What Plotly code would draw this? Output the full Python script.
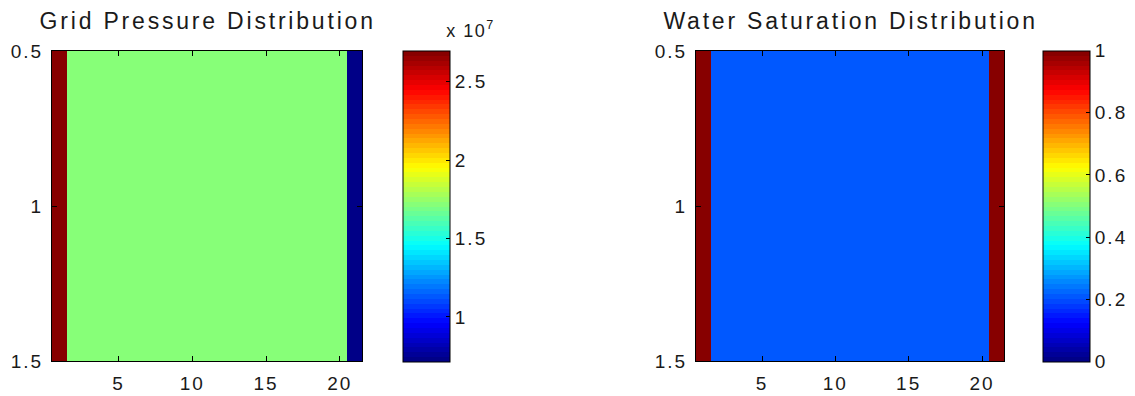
import numpy as np
import plotly.graph_objects as go

# Grid cells along the 1-D reservoir (single row of 21 blocks)
cells = list(range(1, 22))
rows = [1]

# Block pressure (Pa): injector at left, producer at right
pressure = [2.70e7] + [1.71e7] * 19 + [0.715e7]
# Water saturation (fraction)
saturation = [1.0] + [0.21] * 19 + [1.0]

pressure_ticks = [1.0e7, 1.5e7, 2.0e7, 2.5e7]
pressure_ticktext = ["1", "1.5", "2", "2.5"]
sat_ticks = [0, 0.2, 0.4, 0.6, 0.8, 1.0]
sat_ticktext = ["0", "0.2", "0.4", "0.6", "0.8", "1"]
x_ticks = [5, 10, 15, 20]
y_ticks = [0.5, 1.0, 1.5]
y_ticktext = ["0.5", "1", "1.5"]


def jet(n=64):
    """MATLAB-style jet colormap as a stepped Plotly colorscale."""
    cols = []
    for i in range(n):
        v = (i + 0.5) / n
        r = np.clip(min(4 * v - 1.5, -4 * v + 4.5), 0, 1)
        g = np.clip(min(4 * v - 0.5, -4 * v + 3.5), 0, 1)
        b = np.clip(min(4 * v + 0.5, -4 * v + 2.5), 0, 1)
        cols.append("rgb(%d,%d,%d)" % (round(r * 255), round(g * 255), round(b * 255)))
    scale = []
    for i, c in enumerate(cols):
        scale.append([i / n, c])
        scale.append([(i + 1) / n, c])
    return scale


JET = jet(64)
FONT = "Liberation Sans, Arial, sans-serif"
TXT = "#1a1a1a"

W, H = 1135, 396
top_px, bot_px = 51, 361
y_dom = [1 - bot_px / H, 1 - top_px / H]
cb_len = (bot_px - top_px + 1) / H
cb_y = 1 - (top_px + bot_px) / 2 / H

fig = go.Figure()

fig.add_trace(go.Heatmap(
    x=cells, y=rows, z=[pressure], colorscale=JET,
    xaxis="x", yaxis="y",
    colorbar=dict(
        x=403 / W, xanchor="left", xpad=0, ypad=0,
        y=cb_y, yanchor="middle", len=cb_len, lenmode="fraction",
        thickness=47, thicknessmode="pixels",
        outlinewidth=1, outlinecolor="black",
        tickvals=pressure_ticks, ticktext=pressure_ticktext,
        ticks="inside", ticklen=4, tickcolor="black",
        tickfont=dict(family=FONT, size=19, color=TXT),
    ),
    hoverinfo="skip",
))

fig.add_trace(go.Heatmap(
    x=cells, y=rows, z=[saturation], colorscale=JET, zmin=0, zmax=1,
    xaxis="x2", yaxis="y2",
    colorbar=dict(
        x=1043 / W, xanchor="left", xpad=0, ypad=0,
        y=cb_y, yanchor="middle", len=cb_len, lenmode="fraction",
        thickness=47, thicknessmode="pixels",
        outlinewidth=1, outlinecolor="black",
        tickvals=sat_ticks, ticktext=sat_ticktext,
        ticks="inside", ticklen=4, tickcolor="black",
        tickfont=dict(family=FONT, size=19, color=TXT),
    ),
    hoverinfo="skip",
))

xaxis_common = dict(
    range=[0.5, 21.5], tickvals=x_ticks, ticks="inside", ticklen=5,
    tickcolor="black", showline=True, linecolor="black", linewidth=1,
    mirror="ticks", showgrid=False, zeroline=False,
    tickfont=dict(family=FONT, size=19, color=TXT), ticklabelstandoff=5,
)
yaxis_common = dict(
    range=[1.5, 0.5], tickvals=y_ticks, ticktext=y_ticktext, ticks="inside",
    ticklen=5, tickcolor="black", showline=True, linecolor="black",
    linewidth=1, mirror="ticks", showgrid=False, zeroline=False,
    tickfont=dict(family=FONT, size=19, color=TXT), ticklabelstandoff=4,
)

fig.update_layout(
    width=W, height=H,
    margin=dict(l=0, r=0, t=0, b=0, autoexpand=False),
    paper_bgcolor="white", plot_bgcolor="white",
    xaxis=dict(domain=[52 / W, 362 / W], anchor="y", **xaxis_common),
    yaxis=dict(domain=y_dom, anchor="x", **yaxis_common),
    xaxis2=dict(domain=[696 / W, 1004 / W], anchor="y2", **xaxis_common),
    yaxis2=dict(domain=y_dom, anchor="x2", **yaxis_common),
    annotations=[
        dict(text="Grid Pressure Distribution", x=(52 + 362) / 2 / W, y=1 - 36 / H,
             xref="paper", yref="paper", xanchor="center", yanchor="bottom",
             showarrow=False, font=dict(family=FONT, size=23, color=TXT)),
        dict(text="Water Saturation Distribution", x=(696 + 1004) / 2 / W, y=1 - 36 / H,
             xref="paper", yref="paper", xanchor="center", yanchor="bottom",
             showarrow=False, font=dict(family=FONT, size=23, color=TXT)),
        dict(text="x 10<sup>7</sup>", x=448 / W, y=1 - 43 / H,
             xref="paper", yref="paper", xanchor="left", yanchor="bottom",
             showarrow=False, font=dict(family=FONT, size=18, color=TXT)),
    ],
)

# Wider character spacing, in the manner of MATLAB's screen fonts
spacing_js = """
var gd = document.querySelector('.plotly-graph-div');
function widen() {
  gd.querySelectorAll('.annotation-text').forEach(function (t) {
    t.setAttribute('letter-spacing', t.textContent.length > 10 ? '2.8px' : '1.5px');
  });
  gd.querySelectorAll('.xtick text, .ytick text, .x2tick text, .y2tick text, .cbaxis text')
    .forEach(function (t) { t.setAttribute('letter-spacing', '2px'); });
}
widen();
gd.on('plotly_afterplot', widen);
"""

fig.write_html("out.html", post_script=spacing_js)
